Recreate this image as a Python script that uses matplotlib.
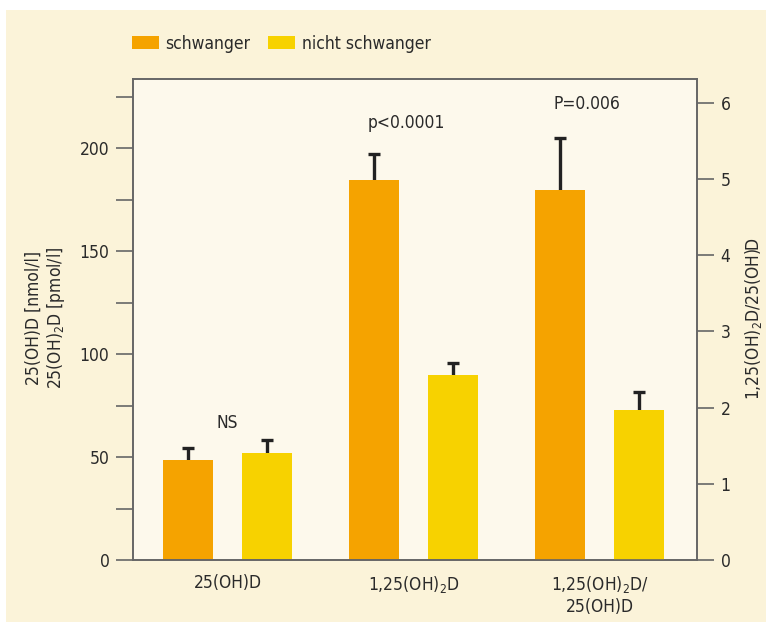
import matplotlib
matplotlib.use("Agg")
import matplotlib.pyplot as plt
from matplotlib.patches import Rectangle
from matplotlib import font_manager as fm
import numpy as np

plt.rcParams['font.family'] = ['DejaVu Sans']
plt.rcParams['font.stretch'] = 'condensed'
_f = fm.findfont(fm.FontProperties(family='DejaVu Sans', stretch='condensed'))
COND = 'Condensed' in _f
FS = 12.5 if COND else 11.5
plt.rcParams['mathtext.fontset'] = 'custom'
plt.rcParams['mathtext.rm'] = 'DejaVu Sans:stretch=condensed' if COND else 'DejaVu Sans'
plt.rcParams['mathtext.default'] = 'rm'

categories = ['25(OH)D', '1,25(OH)$_2$D', '1,25(OH)$_2$D/\n25(OH)D']
series_names = ['schwanger', 'nicht schwanger']
# groups 1-2 on left axis, group 3 on right axis (ratio)
schwanger = [48.5, 184.5, 4.86]
schwanger_err = [5.9, 12.5, 0.68]
nicht = [52.0, 89.8, 1.97]
nicht_err = [6.3, 5.8, 0.24]
annotations = ['NS', 'p<0.0001', 'P=0.006']
annot_y = [62, 208, 5.87]  # left-axis units for 1-2, right-axis for 3
annot_dx = [0.0, -0.04, -0.07]

left_ticks = [0, 50, 100, 150, 200]
left_minor = [25, 75, 125, 175, 225]
right_ticks = [0, 1, 2, 3, 4, 5, 6]

c_orange = '#F5A300'
c_yellow = '#F7D200'
txt = '#2a2a2a'
spine_c = '#666666'

fig = plt.figure(figsize=(7.66, 6.22), dpi=100, facecolor='#FBF3D9')
fig.patches.append(Rectangle((0, 1 - 10/622), 1, 10/622, transform=fig.transFigure,
                             facecolor='white', edgecolor='none', zorder=0))
fig.patches.append(Rectangle((0, 0), 6/766, 1, transform=fig.transFigure,
                             facecolor='white', edgecolor='none', zorder=0))

ax = fig.add_axes([133/766, 1 - 560/622, 564/766, 481/622])
ax.set_facecolor('#FDF9EC')
ax2 = ax.twinx()

x = np.arange(len(categories))
w = 0.269
off = 0.212
cw = 0.032

for i in range(3):
    a = ax if i < 2 else ax2
    a.bar(x[i] - off, schwanger[i], w, color=c_orange, zorder=2,
          label=series_names[0] if i == 0 else None)
    a.bar(x[i] + off, nicht[i], w, color=c_yellow, zorder=2,
          label=series_names[1] if i == 0 else None)
    for xc, v, e in ((x[i] - off, schwanger[i], schwanger_err[i]),
                     (x[i] + off, nicht[i], nicht_err[i])):
        a.vlines(xc, v, v + e, color='#222222', linewidth=2.4, zorder=1)
        a.hlines(v + e, xc - cw, xc + cw, color='#222222', linewidth=2.4, zorder=1)
    a.text(x[i] + annot_dx[i], annot_y[i], annotations[i], ha='center', va='bottom',
           fontsize=FS, color=txt)

ax.set_xlim(-0.508, 2.524)
ax.set_ylim(0, 233.5)
ax2.set_ylim(0, 6.315)

ax.set_yticks(left_ticks)
ax.set_yticks(left_minor, minor=True)
ax2.set_yticks(right_ticks)
ax.set_xticks(x)
ax.set_xticklabels(categories, fontsize=FS, color=txt, va='top', linespacing=1.25)
ax.tick_params(axis='x', length=0, pad=10)
ax.tick_params(axis='y', which='both', direction='out', length=12, width=1.2,
               color=spine_c, labelsize=FS, labelcolor=txt, pad=5)
ax2.tick_params(axis='y', direction='out', length=12, width=1.2,
                color=spine_c, labelsize=FS, labelcolor=txt, pad=5)

for a in (ax, ax2):
    for s in a.spines.values():
        s.set_color(spine_c)
        s.set_linewidth(1.2)

fig.text(46/766, 1 - 318/622, '25(OH)D [nmol/l]\n25(OH)$_2$D [pmol/l]', rotation=90,
         ha='center', va='center', fontsize=FS, color=txt, linespacing=1.15)
fig.text(753/766, 1 - 318/622, '1,25(OH)$_2$D/25(OH)D', rotation=90,
         ha='center', va='center', fontsize=FS, color=txt)

h1, l1 = ax.get_legend_handles_labels()
fig.legend(h1, l1, loc='upper left', bbox_to_anchor=(116/766, 1 - 19/622), ncol=2,
           frameon=False, fontsize=FS, handlelength=1.55, handleheight=0.8,
           handletextpad=0.4, columnspacing=1.0, labelcolor=txt)

fig.savefig('out.png', dpi=100, facecolor=fig.get_facecolor())
